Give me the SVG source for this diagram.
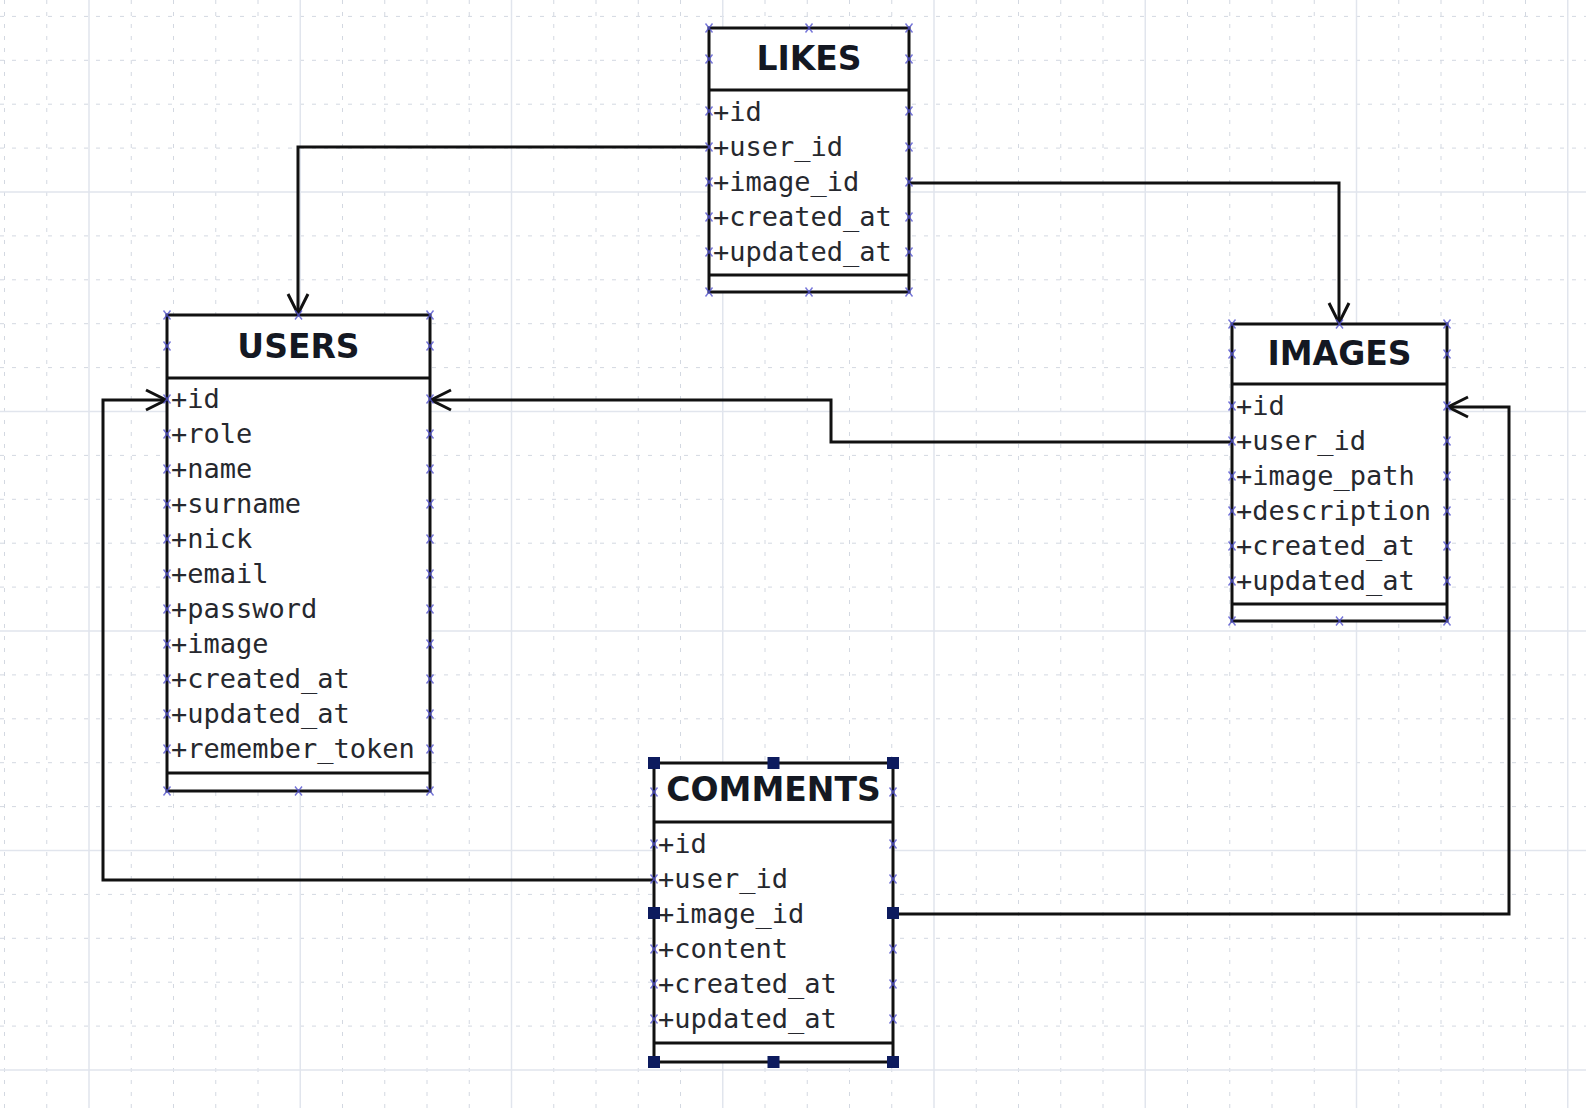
<svg xmlns="http://www.w3.org/2000/svg" width="1586" height="1108" viewBox="0 0 1586 1108">
<style>
.minor{fill:none;stroke:#d3d8e1;stroke-width:1;stroke-dasharray:4 8}
.major{fill:none;stroke:#e1e5ed;stroke-width:1.5}
.box{fill:#ffffff;stroke:#111111;stroke-width:3}
.sep{stroke:#111111;stroke-width:3}
.t{font-family:"DejaVu Sans","Liberation Sans",sans-serif;font-weight:bold;font-size:33px;text-anchor:middle;fill:#141822}
.a{font-family:"DejaVu Sans Mono","Liberation Mono",monospace;font-size:27px;fill:#26282e}
.xm{fill:none;stroke:#5252d0;stroke-width:1.4;opacity:0.8}
.h{fill:#0d1b5e}
.c{fill:none;stroke:#111111;stroke-width:3;stroke-linejoin:miter}
</style>
<defs>
<marker id="arr" markerUnits="userSpaceOnUse" markerWidth="30" markerHeight="30" refX="0" refY="0" orient="auto" overflow="visible">
<path d="M-20,-10L0,0L-20,10" fill="none" stroke="#111111" stroke-width="3"/>
</marker>
<path id="x" class="xm" d="M-3.5,-4.5L3.5,4.5M3.5,-4.5L-3.5,4.5"/>
</defs>
<rect width="1586" height="1108" fill="#ffffff"/>
<g id="grid">
<path class="minor" d="M4.5 0V1108M46.75 0V1108M131.25 0V1108M173.5 0V1108M215.75 0V1108M258 0V1108M342.5 0V1108M384.75 0V1108M427 0V1108M469.25 0V1108M553.75 0V1108M596 0V1108M638.25 0V1108M680.5 0V1108M765 0V1108M807.25 0V1108M849.5 0V1108M891.75 0V1108M976.25 0V1108M1018.5 0V1108M1060.75 0V1108M1103 0V1108M1187.5 0V1108M1229.75 0V1108M1272 0V1108M1314.25 0V1108M1398.75 0V1108M1441 0V1108M1483.25 0V1108M1525.5 0V1108"/>
<path class="minor" d="M0 16.4H1586M0 60.3H1586M0 104.2H1586M0 148.1H1586M0 235.9H1586M0 279.8H1586M0 323.7H1586M0 367.6H1586M0 455.4H1586M0 499.3H1586M0 543.2H1586M0 587.1H1586M0 674.9H1586M0 718.8H1586M0 762.7H1586M0 806.6H1586M0 894.4H1586M0 938.3H1586M0 982.2H1586M0 1026.1H1586"/>
<path class="major" d="M89 0V1108M300.25 0V1108M511.5 0V1108M722.75 0V1108M934 0V1108M1145.25 0V1108M1356.5 0V1108M1567.75 0V1108M0 192H1586M0 411.5H1586M0 631H1586M0 850.5H1586M0 1070H1586"/>
</g>
<g id="connectors">
<path class="c" d="M709,147H298V314" marker-end="url(#arr)"/>
<path class="c" d="M909,183H1339V323" marker-end="url(#arr)"/>
<path class="c" d="M1232,442H831V400H431" marker-end="url(#arr)"/>
<path class="c" d="M654,880H103V400H166" marker-end="url(#arr)"/>
<path class="c" d="M893,914H1509V407H1448" marker-end="url(#arr)"/>
</g>
<g id="likes">
<rect class="box" x="709" y="28" width="200" height="264"/>
<line class="sep" x1="709" y1="90" x2="909" y2="90"/>
<line class="sep" x1="709" y1="275" x2="909" y2="275"/>
<text class="t" x="809" y="70">LIKES</text>
<text class="a" x="713" y="121">+id</text>
<text class="a" x="713" y="156">+user_id</text>
<text class="a" x="713" y="191">+image_id</text>
<text class="a" x="713" y="226">+created_at</text>
<text class="a" x="713" y="261">+updated_at</text>
<use href="#x" x="709" y="28"/><use href="#x" x="809" y="28"/><use href="#x" x="909" y="28"/>
<use href="#x" x="709" y="59"/><use href="#x" x="909" y="59"/>
<use href="#x" x="709" y="111"/><use href="#x" x="909" y="111"/>
<use href="#x" x="709" y="147"/><use href="#x" x="909" y="147"/>
<use href="#x" x="709" y="182"/><use href="#x" x="909" y="182"/>
<use href="#x" x="709" y="217"/><use href="#x" x="909" y="217"/>
<use href="#x" x="709" y="252"/><use href="#x" x="909" y="252"/>
<use href="#x" x="709" y="292"/><use href="#x" x="809" y="292"/><use href="#x" x="909" y="292"/>
</g>
<g id="users">
<rect class="box" x="167" y="315" width="263" height="476"/>
<line class="sep" x1="167" y1="378" x2="430" y2="378"/>
<line class="sep" x1="167" y1="773" x2="430" y2="773"/>
<text class="t" x="298.5" y="358">USERS</text>
<text class="a" x="171" y="407.5">+id</text>
<text class="a" x="171" y="442.5">+role</text>
<text class="a" x="171" y="477.5">+name</text>
<text class="a" x="171" y="512.5">+surname</text>
<text class="a" x="171" y="547.5">+nick</text>
<text class="a" x="171" y="582.5">+email</text>
<text class="a" x="171" y="617.5">+password</text>
<text class="a" x="171" y="652.5">+image</text>
<text class="a" x="171" y="687.5">+created_at</text>
<text class="a" x="171" y="722.5">+updated_at</text>
<text class="a" x="171" y="757.5">+remember_token</text>
<use href="#x" x="167" y="315"/><use href="#x" x="298.5" y="315"/><use href="#x" x="430" y="315"/>
<use href="#x" x="167" y="346"/><use href="#x" x="430" y="346"/>
<use href="#x" x="167" y="399"/><use href="#x" x="430" y="399"/>
<use href="#x" x="167" y="434"/><use href="#x" x="430" y="434"/>
<use href="#x" x="167" y="469"/><use href="#x" x="430" y="469"/>
<use href="#x" x="167" y="504"/><use href="#x" x="430" y="504"/>
<use href="#x" x="167" y="539"/><use href="#x" x="430" y="539"/>
<use href="#x" x="167" y="574"/><use href="#x" x="430" y="574"/>
<use href="#x" x="167" y="609"/><use href="#x" x="430" y="609"/>
<use href="#x" x="167" y="644"/><use href="#x" x="430" y="644"/>
<use href="#x" x="167" y="679"/><use href="#x" x="430" y="679"/>
<use href="#x" x="167" y="714"/><use href="#x" x="430" y="714"/>
<use href="#x" x="167" y="749"/><use href="#x" x="430" y="749"/>
<use href="#x" x="167" y="791"/><use href="#x" x="298.5" y="791"/><use href="#x" x="430" y="791"/>
</g>
<g id="images">
<rect class="box" x="1232" y="324" width="215" height="297"/>
<line class="sep" x1="1232" y1="384" x2="1447" y2="384"/>
<line class="sep" x1="1232" y1="604" x2="1447" y2="604"/>
<text class="t" x="1339.5" y="365">IMAGES</text>
<text class="a" x="1236" y="414.5">+id</text>
<text class="a" x="1236" y="449.5">+user_id</text>
<text class="a" x="1236" y="484.5">+image_path</text>
<text class="a" x="1236" y="519.5">+description</text>
<text class="a" x="1236" y="554.5">+created_at</text>
<text class="a" x="1236" y="589.5">+updated_at</text>
<use href="#x" x="1232" y="324"/><use href="#x" x="1339.5" y="324"/><use href="#x" x="1447" y="324"/>
<use href="#x" x="1232" y="354"/><use href="#x" x="1447" y="354"/>
<use href="#x" x="1232" y="406"/><use href="#x" x="1447" y="406"/>
<use href="#x" x="1232" y="441"/><use href="#x" x="1447" y="441"/>
<use href="#x" x="1232" y="476"/><use href="#x" x="1447" y="476"/>
<use href="#x" x="1232" y="511"/><use href="#x" x="1447" y="511"/>
<use href="#x" x="1232" y="546"/><use href="#x" x="1447" y="546"/>
<use href="#x" x="1232" y="581"/><use href="#x" x="1447" y="581"/>
<use href="#x" x="1232" y="621"/><use href="#x" x="1339.5" y="621"/><use href="#x" x="1447" y="621"/>
</g>
<g id="comments">
<rect class="box" x="654" y="763" width="239" height="299"/>
<line class="sep" x1="654" y1="822" x2="893" y2="822"/>
<line class="sep" x1="654" y1="1043" x2="893" y2="1043"/>
<text class="t" x="773.5" y="801">COMMENTS</text>
<text class="a" x="658" y="853">+id</text>
<text class="a" x="658" y="888">+user_id</text>
<text class="a" x="658" y="923">+image_id</text>
<text class="a" x="658" y="958">+content</text>
<text class="a" x="658" y="993">+created_at</text>
<text class="a" x="658" y="1028">+updated_at</text>
<use href="#x" x="654" y="792"/><use href="#x" x="893" y="792"/>
<use href="#x" x="654" y="844"/><use href="#x" x="893" y="844"/>
<use href="#x" x="654" y="879"/><use href="#x" x="893" y="879"/>
<use href="#x" x="654" y="949"/><use href="#x" x="893" y="949"/>
<use href="#x" x="654" y="984"/><use href="#x" x="893" y="984"/>
<use href="#x" x="654" y="1019"/><use href="#x" x="893" y="1019"/>
<rect class="h" x="648" y="757" width="12" height="12"/>
<rect class="h" x="767.5" y="757" width="12" height="12"/>
<rect class="h" x="887" y="757" width="12" height="12"/>
<rect class="h" x="648" y="907" width="12" height="12"/>
<rect class="h" x="887" y="907" width="12" height="12"/>
<rect class="h" x="648" y="1056" width="12" height="12"/>
<rect class="h" x="767.5" y="1056" width="12" height="12"/>
<rect class="h" x="887" y="1056" width="12" height="12"/>
</g>
</svg>
